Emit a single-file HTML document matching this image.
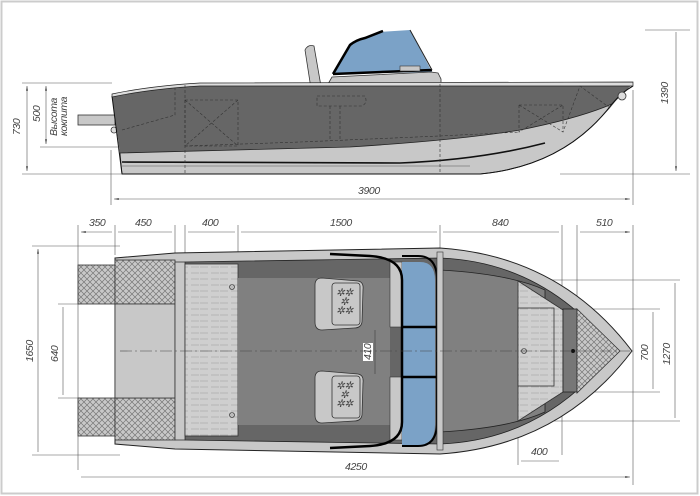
<!DOCTYPE html>
<html><head><meta charset="utf-8"><style>
html,body{margin:0;padding:0;background:#fff}
svg{display:block}
text{font-family:"Liberation Sans",sans-serif;font-style:italic;fill:#444;font-size:10.5px;letter-spacing:-0.4px}
</style></head><body>
<svg width="700" height="496" viewBox="0 0 700 496" xmlns="http://www.w3.org/2000/svg">
<defs>
<pattern id="xh" width="6" height="6" patternUnits="userSpaceOnUse">
<rect width="6" height="6" fill="#c8c8c8"/>
<path d="M0 0L6 6M6 0L0 6" stroke="#777" stroke-width="0.7"/>
</pattern>
<pattern id="bd" width="20" height="6" patternUnits="userSpaceOnUse">
<rect width="20" height="6" fill="#cfcfcf"/>
<path d="M0 3H8M11 3H19" stroke="#999" stroke-width="0.6"/>
</pattern>
<marker id="a" markerWidth="8" markerHeight="6" refX="8" refY="3" orient="auto-start-reverse"><path d="M0 1.5L8 3L0 4.5z" fill="#333"/></marker>
</defs>
<rect x="1.5" y="1.5" width="696" height="492" fill="none" stroke="#ccc" stroke-width="2"/>

<!-- SIDE VIEW -->
<rect x="78" y="115" width="37" height="10" fill="#c8c8c8" stroke="#333" stroke-width="0.8"/>
<circle cx="114" cy="130" r="3" fill="#ddd" stroke="#333" stroke-width="0.8"/>
<path d="M305 50 Q308 44 314 46 L322 92 L312 95 Z" fill="#c8c8c8" stroke="#333" stroke-width="0.8"/>
<path d="M333 74 L350 43 L380 32 L410 30 L432 72 Z" fill="#7ba2c7"/>
<path d="M333 74 L350 45 Q356 40 365 38 L383 31" fill="none" stroke="#000" stroke-width="2.5"/>
<path d="M333 74 L432 70" stroke="#000" stroke-width="2.5"/>
<path d="M410 30 L432 70" stroke="#222" stroke-width="1"/>
<path d="M328 84 L332 77 L431 72 L438 73 L441 79 L441 85 Z" fill="#c8c8c8" stroke="#333" stroke-width="0.8"/>
<rect x="400" y="66" width="20" height="5" fill="#c8c8c8" stroke="#333" stroke-width="0.6"/>
<path d="M112 96 Q150 88 200 85 L633 84 Q620 95 610 108 Q560 165 480 174 L122 174 L120 153 Z" fill="#666"/>
<path d="M120 153 L350 147 Q460 140 520 130 Q580 118 612 104 Q565 166 480 174 L122 174 Z" fill="#c8c8c8" stroke="#222" stroke-width="0.8"/>
<path d="M122 162 L400 163 Q480 160 545 143" fill="none" stroke="#111" stroke-width="1.6"/>
<path d="M122 166 L470 166" stroke="#555" stroke-width="0.6"/>
<path d="M112 96 L122 174 L480 174 Q565 166 612 104 Q622 92 633 86" fill="none" stroke="#111" stroke-width="1"/>
<path d="M112 94 Q150 86 200 83 L633 82 L633 86 L200 86 Q150 89 112 97 Z" fill="#ddd" stroke="#222" stroke-width="0.7"/>
<circle cx="622" cy="96" r="4" fill="#ddd" stroke="#333" stroke-width="0.8"/>
<g fill="none" stroke="#333" stroke-width="0.6" stroke-dasharray="3,2">
<path d="M185 100 H238 V146 H185 Z M185 100 L238 146 M238 100 L185 146"/>
<path d="M122 130 L175 115 L175 88"/>
<path d="M185 146 L300 142 L440 136 L520 132"/>
<path d="M440 84 V174 M185 85 V174"/>
<path d="M519 105 H563 V132 M519 105 V132 L563 105 M519 105 L563 132 L580 86 L610 108"/>
<path d="M317 96 H365 Q368 103 362 106 H317 Z M330 106 V140 M340 106 V140"/>
</g>
<g stroke="#555" stroke-width="0.6" fill="none">
<path d="M22 83 H112 M40 147 H120 M22 174 H122 M111 150 V205 M633 90 V205 M560 174 H690 M645 30 H690"/>
<path d="M27 86 V171" marker-start="url(#a)" marker-end="url(#a)"/>
<path d="M46 86 V144" marker-start="url(#a)" marker-end="url(#a)"/>
<path d="M676 32 V171" marker-end="url(#a)"/>
<path d="M114 199 H630" marker-start="url(#a)" marker-end="url(#a)"/>
</g>
<text transform="translate(20,135) rotate(-90)">730</text>
<text transform="translate(40,122) rotate(-90)">500</text>
<text transform="translate(57,136) rotate(-90)" font-size="9.5">Высота</text>
<text transform="translate(67,136) rotate(-90)" font-size="9.5">кокпита</text>
<text transform="translate(668,104) rotate(-90)">1390</text>
<text x="358" y="194">3900</text>

<!-- TOP VIEW -->
<g stroke="#555" stroke-width="0.6" fill="none">
<path d="M78 225 V470 M115 225 V255 M175 225 V260 M185 225 V260 M238 225 V262 M440 225 V250 M562 225 V455 M577 225 V300 M633 225 V485 M518 280 V465"/>
<path d="M32 246 H120 M32 455 H120 M58 304 H80 M58 398 H80 M520 280 H680 M575 309 H660 M575 392 H660 M520 421 H680"/>
<path d="M81 232 H112 M118 232 H172 M188 232 H235 M241 232 H437 M443 232 H559 M580 232 H630" marker-start="url(#a)" marker-end="url(#a)"/>
<path d="M38 249 V452 M63 307 V395 M653 312 V389 M675 283 V418 M521 461 H559 M81 477 H630" marker-start="url(#a)" marker-end="url(#a)"/>
</g>
<text x="89" y="226">350</text><text x="135" y="226">450</text><text x="202" y="226">400</text>
<text x="330" y="226">1500</text><text x="492" y="226">840</text><text x="596" y="226">510</text>
<text transform="translate(33,362) rotate(-90)">1650</text>
<text transform="translate(58,362) rotate(-90)">640</text>
<text transform="translate(648,361) rotate(-90)">700</text>
<text transform="translate(670,365) rotate(-90)">1270</text>
<text x="531" y="455">400</text><text x="345" y="470">4250</text>

<rect x="78" y="265" width="37" height="39" fill="url(#xh)" stroke="#333" stroke-width="0.8"/>
<rect x="78" y="398" width="37" height="38" fill="url(#xh)" stroke="#333" stroke-width="0.8"/>
<path d="M115 258 L175 253 L440 248 Q560 256 632 351 Q560 446 440 454 L175 449 L115 444 Z" fill="#c8c8c8" stroke="#222" stroke-width="1"/>
<path d="M185 262 L440 258 Q545 262 614 351 Q545 440 440 444 L185 440 Z" fill="#666" stroke="#222" stroke-width="0.8"/>
<path d="M440 270 Q510 274 545 290 L545 412 Q510 428 440 432 Z" fill="#808080" stroke="#222" stroke-width="0.8"/>
<rect x="115" y="260" width="60" height="44" fill="url(#xh)" stroke="#333" stroke-width="0.8"/>
<rect x="115" y="398" width="60" height="42" fill="url(#xh)" stroke="#333" stroke-width="0.8"/>
<rect x="115" y="304" width="60" height="94" fill="#c8c8c8" stroke="#333" stroke-width="0.8"/>
<rect x="175" y="262" width="10" height="178" fill="#c8c8c8" stroke="#333" stroke-width="0.8"/>
<rect x="185" y="264" width="53" height="172" fill="url(#bd)" stroke="#333" stroke-width="0.8"/>
<rect x="238" y="278" width="152" height="147" fill="#808080"/>
<circle cx="232" cy="287" r="2.5" fill="#bbb" stroke="#222" stroke-width="0.6"/>
<circle cx="232" cy="415" r="2.5" fill="#bbb" stroke="#222" stroke-width="0.6"/>
<g fill="#c8c8c8" stroke="#333" stroke-width="0.8">
<path d="M322 278 L358 281 Q364 282 363 290 L362 322 Q361 328 354 328 L322 330 Q315 330 315 322 V285 Q315 278 322 278Z"/>
<rect x="332" y="283" width="28" height="42" rx="3"/>
<path d="M322 371 L358 374 Q364 375 363 383 L362 415 Q361 421 354 421 L322 423 Q315 423 315 415 V378 Q315 371 322 371Z"/>
<rect x="332" y="376" width="28" height="42" rx="3"/>
</g>
<g font-size="8" fill="#555"><text x="336" y="296">✲✲</text><text x="340" y="305">✲</text><text x="336" y="314">✲✲</text>
<text x="336" y="389">✲✲</text><text x="340" y="398">✲</text><text x="336" y="407">✲✲</text></g>
<rect x="390" y="262" width="12" height="65" fill="#c8c8c8" stroke="#333" stroke-width="0.6"/>
<rect x="390" y="377" width="12" height="63" fill="#c8c8c8" stroke="#333" stroke-width="0.6"/>
<path d="M402 262 H420 Q435 262 435 280 V425 Q435 445 418 445 H402 Z" fill="#7ba2c7"/>
<path d="M330 254 L370 256 Q402 258 402 280 V422 Q402 444 370 446 L330 448" fill="none" stroke="#000" stroke-width="2.5"/>
<path d="M402 256 H418 Q437 256 437 280 V422 Q437 446 418 446 H402" fill="none" stroke="#000" stroke-width="2"/>
<path d="M402 327 H437 M402 377 H437" stroke="#000" stroke-width="2.5"/>
<rect x="437" y="252" width="6" height="198" fill="#c8c8c8" stroke="#333" stroke-width="0.6"/>
<path d="M375 330 V374" stroke="#333" stroke-width="0.5"/>
<rect x="363" y="343" width="10" height="18" fill="#fff"/>
<text transform="translate(371,360) rotate(-90)" font-size="9">410</text>
<path d="M518 281 L563 310 L563 392 L518 421 Z" fill="url(#bd)" stroke="#333" stroke-width="0.8"/>
<rect x="518" y="308" width="36" height="78" fill="url(#bd)" stroke="#333" stroke-width="0.8"/>
<rect x="563" y="309" width="14" height="83" fill="#777" stroke="#222" stroke-width="0.8"/>
<path d="M577 309 L620 351 L577 393 Z" fill="url(#xh)" stroke="#333" stroke-width="0.8"/>
<circle cx="524" cy="351" r="2.5" fill="#bbb" stroke="#222" stroke-width="0.6"/>
<circle cx="573" cy="351" r="2" fill="#111"/>
<path d="M120 351 H630" stroke="#444" stroke-width="0.6" stroke-dasharray="12,3,2,3"/>
</svg>
</body></html>
